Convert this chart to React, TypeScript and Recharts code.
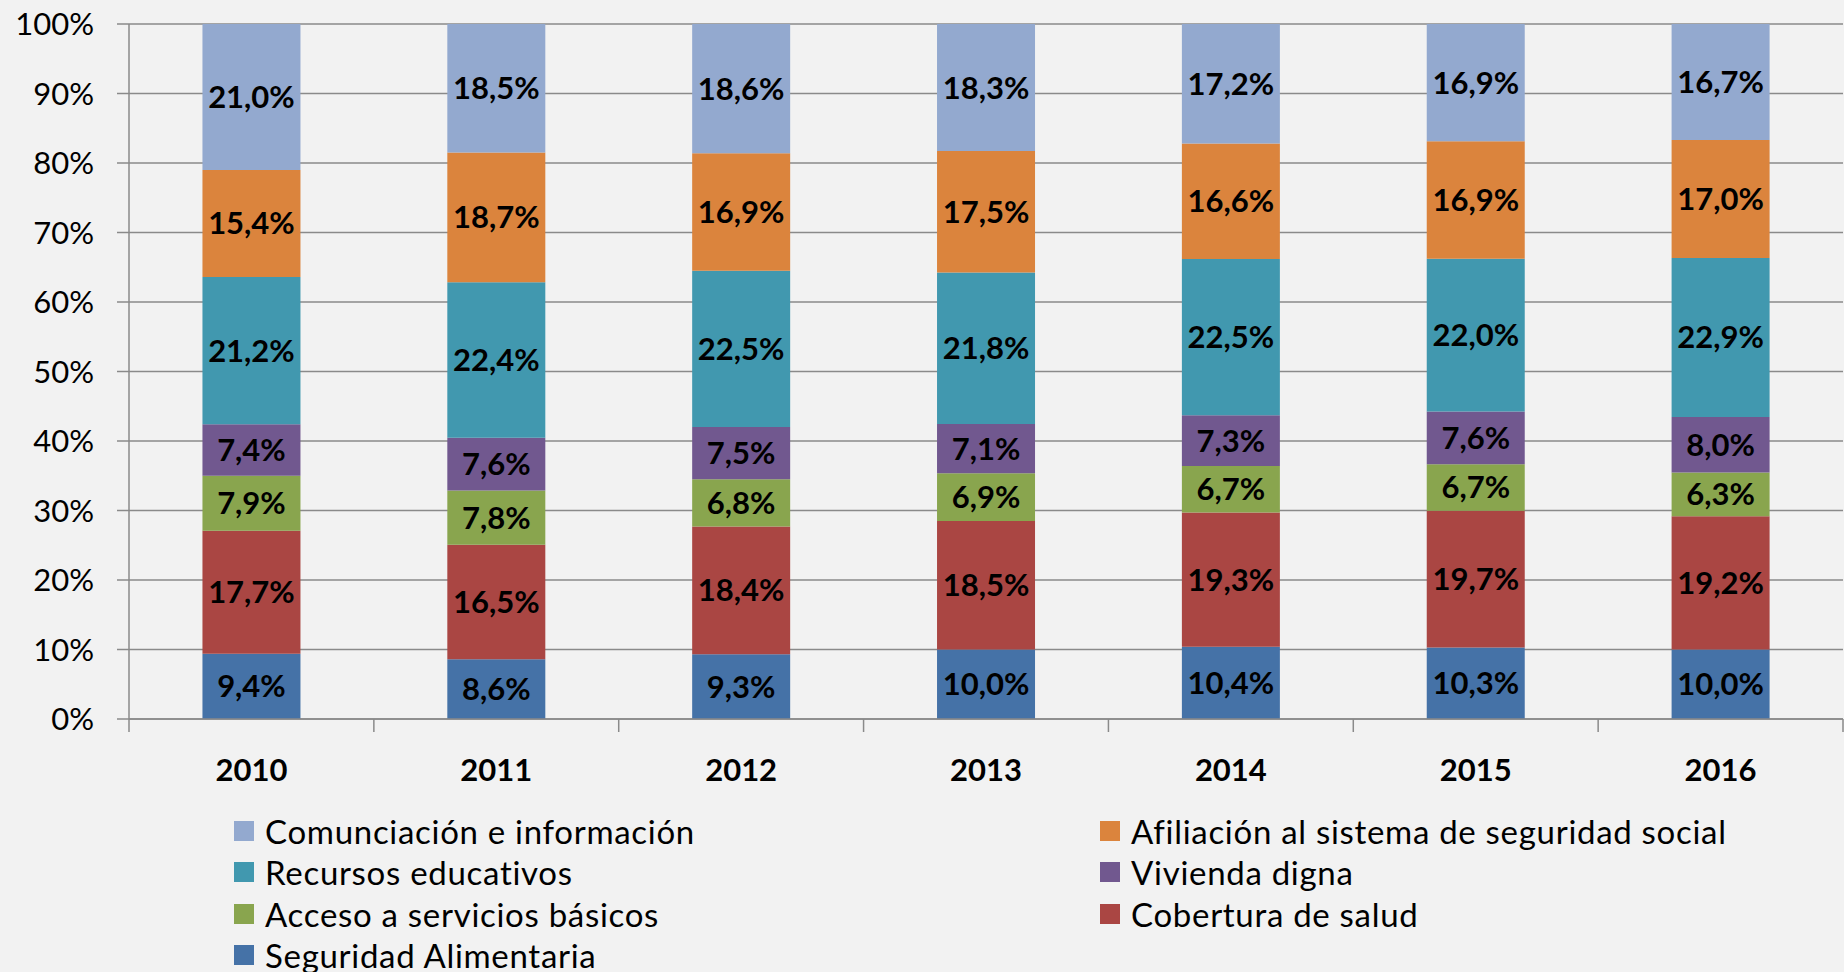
import React from 'react';
import { BarChart, Bar, XAxis, YAxis, CartesianGrid, Legend, LabelList } from 'recharts';

const years = ['2010', '2011', '2012', '2013', '2014', '2015', '2016'];
const seguridadAlimentaria = [9.4, 8.6, 9.3, 10.0, 10.4, 10.3, 10.0];
const coberturaSalud = [17.7, 16.5, 18.4, 18.5, 19.3, 19.7, 19.2];
const accesoServicios = [7.9, 7.8, 6.8, 6.9, 6.7, 6.7, 6.3];
const viviendaDigna = [7.4, 7.6, 7.5, 7.1, 7.3, 7.6, 8.0];
const recursosEducativos = [21.2, 22.4, 22.5, 21.8, 22.5, 22.0, 22.9];
const afiliacionSeguridad = [15.4, 18.7, 16.9, 17.5, 16.6, 16.9, 17.0];
const comunicacionInformacion = [21.0, 18.5, 18.6, 18.3, 17.2, 16.9, 16.7];
const yTicks = [0, 0.1, 0.2, 0.3, 0.4, 0.5, 0.6, 0.7, 0.8, 0.9, 1];

// bottom to top
const series = [
    { key: 'seg', name: 'Seguridad Alimentaria', color: '#4572A7', values: seguridadAlimentaria },
    { key: 'cob', name: 'Cobertura de salud', color: '#AA4643', values: coberturaSalud },
    { key: 'acc', name: 'Acceso a servicios básicos', color: '#89A54E', values: accesoServicios },
    { key: 'viv', name: 'Vivienda digna', color: '#71588F', values: viviendaDigna },
    { key: 'rec', name: 'Recursos educativos', color: '#4198AF', values: recursosEducativos },
    { key: 'afi', name: 'Afiliación al sistema de seguridad social', color: '#DB843D', values: afiliacionSeguridad },
    { key: 'com', name: 'Comunciación e información', color: '#93A9CF', values: comunicacionInformacion },
];

// legend reads row by row, two columns
const legendOrder = ['com', 'afi', 'rec', 'viv', 'acc', 'cob', 'seg'];

const data = years.map((year, i) => {
    const row: any = { year };
    series.forEach(s => { row[s.key] = s.values[i]; });
    return row;
});

const W = 1844;
const H = 972;
const MARGIN = { top: 24, right: 1, left: 0, bottom: 0 };
const YAXIS_W = 129;
const XAXIS_H = 87;
const LEGEND_H = 166;
const FONT = 'Lato, "Noto Sans", sans-serif';
const AXIS_COLOR = '#8a8a8a';

const bandHalf = (W - MARGIN.left - MARGIN.right - YAXIS_W) / years.length / 2;

const fmt = (v: any) => `${Number(v).toFixed(1).replace('.', ',')}%`;

const YearTick = (props: any) => {
    const { x, y, payload, index } = props;
    const top = y - 12;
    return (
        <g>
            <line x1={x - bandHalf} x2={x - bandHalf} y1={top} y2={top + 13} stroke={AXIS_COLOR} strokeWidth={1.5} />
            {index === years.length - 1 && (
                <line x1={x + bandHalf} x2={x + bandHalf} y1={top} y2={top + 13} stroke={AXIS_COLOR} strokeWidth={1.5} />
            )}
            <text x={x} y={y + 38} textAnchor="middle" dominantBaseline="central"
                fontFamily={FONT} fontSize={31} fontWeight={700} fill="#000">
                {payload.value}
            </text>
        </g>
    );
};

const LegendBox = () => (
    <div style={{
        display: 'grid',
        gridTemplateColumns: '866px auto',
        paddingLeft: 234,
        fontFamily: FONT,
        fontSize: 33,
        letterSpacing: 0.7,
        color: '#000',
    }}>
        {legendOrder.map(k => {
            const s = series.find(x => x.key === k)!;
            return (
                <div key={k} style={{ display: 'flex', alignItems: 'center', height: 41.5, whiteSpace: 'nowrap' }}>
                    <span style={{ width: 20, height: 20, background: s.color, marginRight: 11, flex: 'none' }} />
                    <span>{s.name}</span>
                </div>
            );
        })}
    </div>
);

export default function App() {
    return (
        <div style={{ position: 'absolute', left: 0, top: 0, width: W, height: H, background: '#F2F2F2', fontFamily: FONT, overflow: 'hidden' }}>
            <BarChart width={W} height={H} data={data} margin={MARGIN} stackOffset="expand" barCategoryGap="30%">
                <CartesianGrid vertical={false} stroke={AXIS_COLOR} strokeWidth={1.5} />
                <XAxis
                    dataKey="year"
                    height={XAXIS_H}
                    tickLine={false}
                    tickSize={12}
                    tickMargin={0}
                    axisLine={{ stroke: AXIS_COLOR, strokeWidth: 1.5 }}
                    tick={<YearTick />}
                    interval={0}
                />
                <YAxis
                    width={YAXIS_W}
                    domain={[0, 1]}
                    ticks={yTicks}
                    tickFormatter={(v: number) => `${Math.round(v * 100)}%`}
                    tickSize={12}
                    tickMargin={23}
                    tickLine={{ stroke: AXIS_COLOR, strokeWidth: 1.5 }}
                    axisLine={{ stroke: AXIS_COLOR, strokeWidth: 1.5 }}
                    tick={{ fill: '#000', fontSize: 31, fontFamily: FONT }}
                />
                <Legend
                    content={<LegendBox />}
                    verticalAlign="bottom"
                    wrapperStyle={{ top: 810, left: 0, bottom: 'auto', width: W, height: LEGEND_H }}
                />
                {series.map(s => (
                    <Bar key={s.key} dataKey={s.key} name={s.name} stackId="a" fill={s.color} isAnimationActive={false}>
                        <LabelList
                            dataKey={s.key}
                            position="center"
                            formatter={fmt}
                            fill="#000"
                            fontSize={31}
                            fontWeight={700}
                            fontFamily={FONT}
                        />
                    </Bar>
                ))}
            </BarChart>
        </div>
    );
}
